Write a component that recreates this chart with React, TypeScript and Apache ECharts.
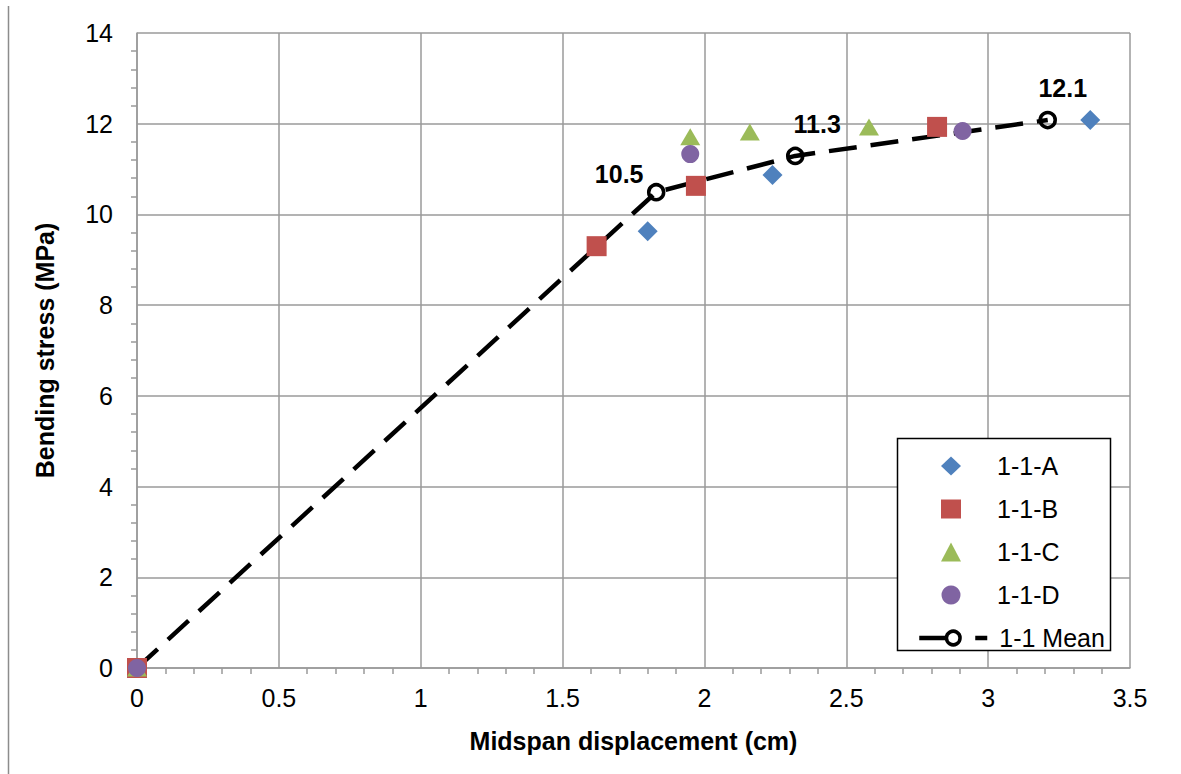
import React, { useEffect, useRef } from "react";
import * as echarts from "echarts";

const seriesNames = ["1-1-A", "1-1-B", "1-1-C", "1-1-D", "1-1 Mean"];
const xA = [0, 1.8, 2.24, 3.36];
const yA = [0, 9.63, 10.87, 12.08];
const xB = [0, 1.62, 1.97, 2.82];
const yB = [0, 9.3, 10.63, 11.93];
const xC = [0, 1.95, 2.16, 2.58];
const yC = [0, 11.71, 11.82, 11.93];
const xD = [0, 1.95, 2.91];
const yD = [0, 11.33, 11.84];
const xMean = [0, 1.83, 2.32, 3.21];
const yMean = [0, 10.49, 11.29, 12.08];
const meanLabels = ["", "10.5", "11.3", "12.1"];
const meanLabelOffsets: [number, number][] = [[0, 0], [-37, -18], [22, -32], [15, -32]];

const pairs = (xs: number[], ys: number[]) => xs.map((x, i) => [x, ys[i]]);

const FONT = "'Liberation Sans', Arial, sans-serif";
const GRID = "#9a9a9a";
const FS = 25;

export default function App() {
  const ref = useRef<HTMLDivElement>(null);
  useEffect(() => {
    const chart = echarts.init(ref.current!, null, { renderer: "svg" });
    const scatter = (name: string, xs: number[], ys: number[], symbol: string, size: any, color: string) => ({
      name,
      type: "scatter",
      data: pairs(xs, ys),
      symbol,
      symbolSize: size,
      itemStyle: { color, opacity: 1 },
      z: 3,
    });
    const legendText = { fontSize: FS, lineHeight: 26, color: "#000", fontFamily: FONT };
    chart.setOption({
      animation: false,
      backgroundColor: "#fff",
      textStyle: { fontFamily: FONT },
      grid: { left: 137, top: 33, width: 993, height: 635, containLabel: false },
      xAxis: {
        type: "value",
        min: 0,
        max: 3.5,
        interval: 0.5,
        name: "Midspan displacement (cm)",
        nameLocation: "middle",
        nameGap: 60,
        nameTextStyle: { fontSize: FS, fontWeight: "bold", color: "#000", fontFamily: FONT },
        axisLine: { show: true, lineStyle: { color: GRID, width: 1.5 } },
        axisTick: { show: false },
        minorTick: { show: true, splitNumber: 5, length: 6, lineStyle: { color: GRID, width: 1.5 } },
        splitLine: { show: true, lineStyle: { color: GRID, width: 1.5 } },
        axisLabel: { fontSize: FS, color: "#000", margin: 17, fontFamily: FONT, formatter: (v: number) => String(v) },
      },
      yAxis: {
        type: "value",
        min: 0,
        max: 14,
        interval: 2,
        name: "Bending stress (MPa)",
        nameLocation: "middle",
        nameGap: 80,
        nameTextStyle: { fontSize: FS, fontWeight: "bold", color: "#000", fontFamily: FONT },
        axisLine: { show: true, lineStyle: { color: GRID, width: 1.5 } },
        axisTick: { show: false },
        minorTick: { show: true, splitNumber: 5, length: 6, lineStyle: { color: GRID, width: 1.5 } },
        splitLine: { show: true, lineStyle: { color: GRID, width: 1.5 } },
        axisLabel: { fontSize: FS, color: "#000", margin: 24, fontFamily: FONT },
      },
      legend: [
        {
          orient: "vertical",
          left: 936,
          top: 448,
          itemWidth: 20,
          itemHeight: 19,
          itemGap: 17,
          z: 20,
          data: seriesNames.slice(0, 4),
          textStyle: { ...legendText, padding: [0, 0, 0, 31] },
        },
        {
          orient: "vertical",
          left: 912,
          top: 620,
          itemWidth: 68,
          itemHeight: 17,
          z: 20,
          data: seriesNames.slice(4),
          lineStyle: { type: [28, 28], width: 4.5, color: "#000" },
          itemStyle: { color: "#fff", borderColor: "#000", borderWidth: 3.5 },
          textStyle: { ...legendText, padding: [0, 0, 0, 7] },
        },
      ],
      graphic: [
        {
          type: "rect",
          shape: { x: 897.5, y: 438.5, width: 213, height: 212 },
          style: { fill: "#fff", stroke: "#000", lineWidth: 1.5 },
          z: 1,
        },
        {
          type: "line",
          shape: { x1: 8.5, y1: 6, x2: 8.5, y2: 774 },
          style: { stroke: "#8c8c8c", lineWidth: 1.5 },
        },
      ],
      series: [
        {
          name: "1-1 Mean",
          type: "line",
          data: pairs(xMean, yMean).map((p, i) => ({
            value: p,
            label: {
              show: meanLabels[i] !== "",
              formatter: meanLabels[i],
              position: "inside",
              offset: meanLabelOffsets[i],
              fontSize: FS,
              fontWeight: "bold",
              color: "#000",
              fontFamily: FONT,
            },
          })),
          symbol: "circle",
          symbolSize: 15,
          showSymbol: true,
          itemStyle: { color: "rgba(255,255,255,0)", borderColor: "#000", borderWidth: 3.5 },
          lineStyle: { color: "#000", width: 4.5, type: [28, 14] },
          z: 2,
        },
        scatter("1-1-A", xA, yA, "diamond", [20, 20], "#4F81BD"),
        scatter("1-1-B", xB, yB, "rect", [20, 20], "#C0504D"),
        scatter("1-1-C", xC, yC, "triangle", [20, 17], "#9BBB59"),
        scatter("1-1-D", xD, yD, "circle", 18, "#8064A2"),
      ],
    });
    return () => chart.dispose();
  }, []);
  return (
    <div
      ref={ref}
      style={{ position: "fixed", left: 0, top: 0, width: 1181, height: 774, background: "#fff" }}
    />
  );
}
